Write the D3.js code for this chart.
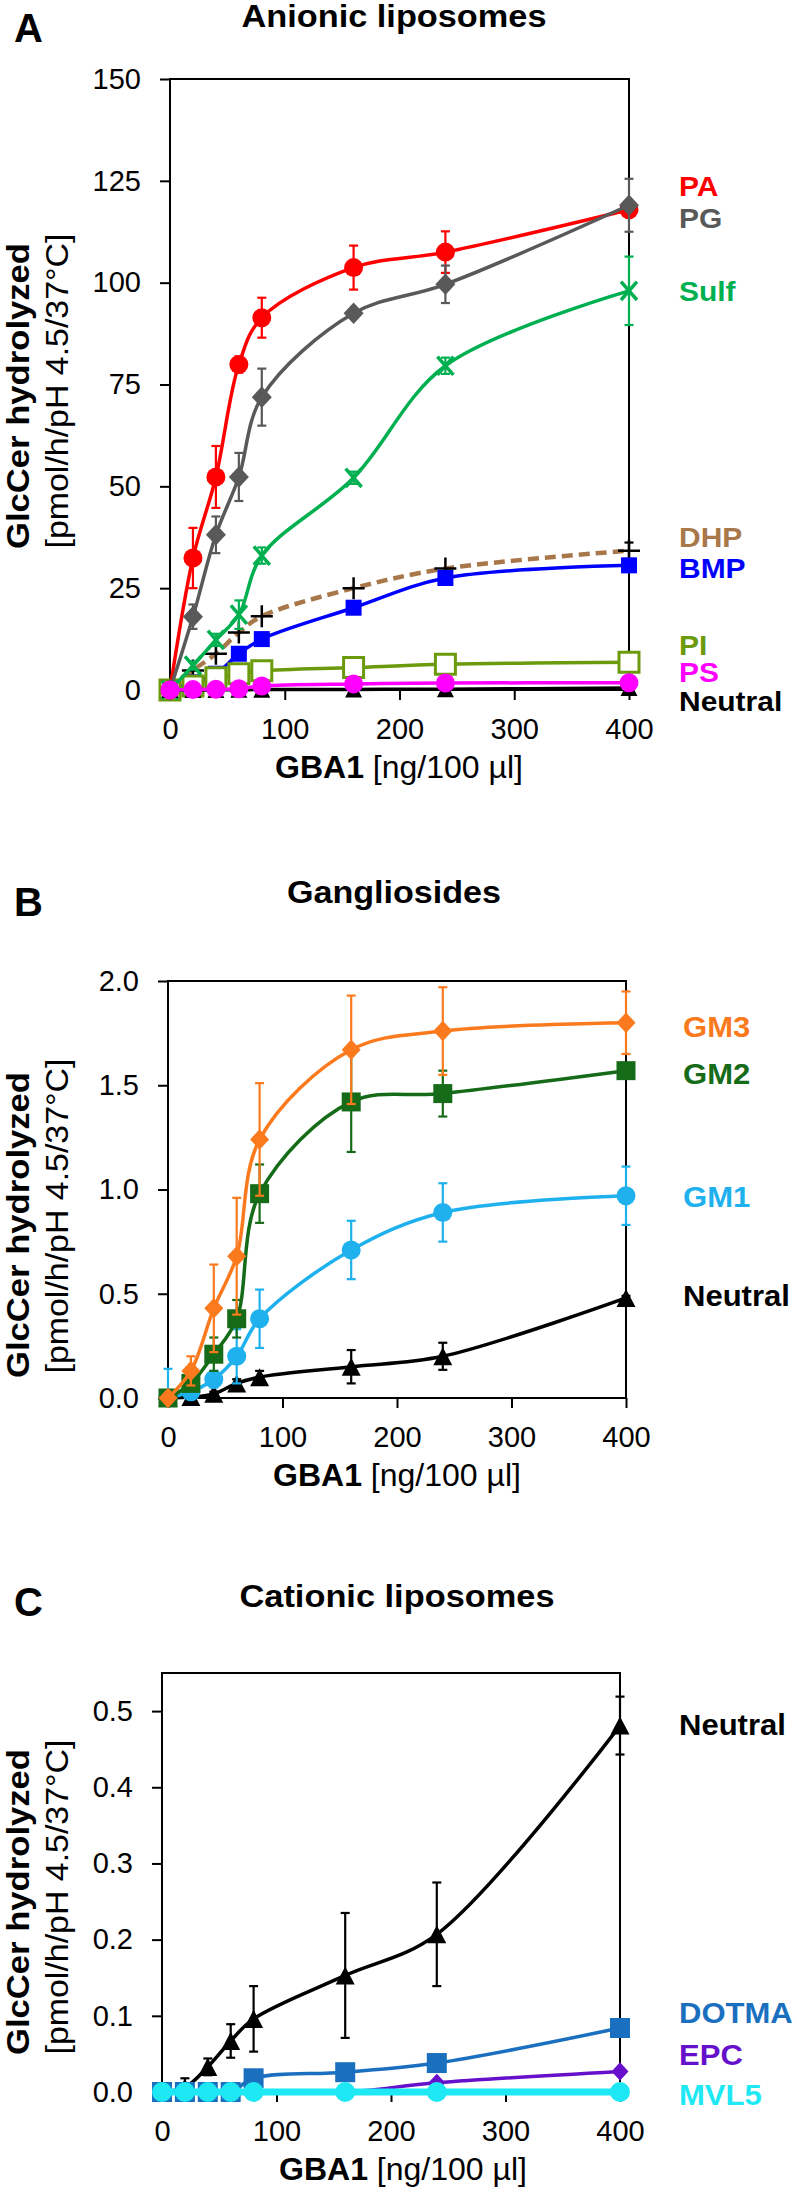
<!DOCTYPE html>
<html><head><meta charset="utf-8">
<script src="https://cdn.jsdelivr.net/npm/d3@7"></script>
<style>
body{margin:0;background:#fff}
svg{display:block}
text{font-family:"Liberation Sans",Arial,Helvetica,sans-serif}
</style>
</head><body>
<svg id="chart" width="797" height="2196"></svg>
<script>
// ---------- shared ----------
const doses = [0, 20, 40, 60, 80, 160, 240, 400];
const xTicks = [0, 100, 200, 300, 400];
const xTickLabels = ["0", "100", "200", "300", "400"];

// ---------- Panel A: anionic liposomes ----------
const yTicksA = [0, 25, 50, 75, 100, 125, 150];
const yTickLabelsA = ["0", "25", "50", "75", "100", "125", "150"];
const paVals   = [0, 32.4, 52.3, 79.9, 91.4, 103.7, 107.5, 117.9];
const paErr    = [0, 7.4, 7.6, 2.0, 4.9, 5.4, 5.1, 1.0];
const pgVals   = [0, 18.0, 38.1, 52.3, 71.9, 92.5, 99.6, 119.0];
const pgErr    = [0, 3.0, 4.5, 5.9, 7.0, 1.0, 4.6, 6.5];
const sulfVals = [0, 6.0, 12.3, 18.5, 33.0, 52.1, 79.6, 98.0];
const sulfErr  = [0, 1.0, 1.5, 3.5, 2.0, 1.5, 2.0, 8.4];
const dhpVals  = [0, 4.8, 8.9, 14.1, 18.1, 25.0, 29.8, 34.2];
const dhpErr   = [0, 0, 0, 0, 0, 0, 0, 2.0];
const bmpVals  = [0, 1.9, 4.0, 8.9, 12.5, 20.2, 27.5, 30.6];
const bmpErr   = [0, 0.5, 1.0, 1.0, 1.0, 1.5, 1.5, 1.0];
const piVals   = [0, 1.0, 3.0, 4.0, 4.7, 5.5, 6.3, 6.8];
const piErr    = [0, 0.5, 0.5, 0.5, 0.5, 0.5, 0.5, 0.5];
const psVals   = [0, 0.1, 0.2, 0.3, 1.0, 1.5, 1.7, 1.8];
const neutralAVals = [0, 0, 0.02, 0.07, 0.1, 0.15, 0.2, 0.48];

// ---------- Panel B: gangliosides ----------
const yTicksB = [0, 0.5, 1.0, 1.5, 2.0];
const yTickLabelsB = ["0.0", "0.5", "1.0", "1.5", "2.0"];
const gm3Vals = [0, 0.13, 0.43, 0.68, 1.24, 1.67, 1.76, 1.80];
const gm3Err  = [0, 0.07, 0.21, 0.28, 0.27, 0.26, 0.21, 0.15];
const gm2Vals = [0, 0.07, 0.21, 0.38, 0.98, 1.42, 1.46, 1.57];
const gm2Err  = [0, 0.02, 0.08, 0.09, 0.14, 0.24, 0.11, 0.02];
const gm1Vals = [0, 0.03, 0.09, 0.20, 0.38, 0.71, 0.89, 0.97];
const gm1Err  = [0.14, 0.02, 0.04, 0.13, 0.14, 0.14, 0.14, 0.14];
const neutralBVals = [0, 0.005, 0.02, 0.07, 0.10, 0.15, 0.20, 0.48];
const neutralBErr  = [0, 0.01, 0.01, 0.02, 0.03, 0.08, 0.065, 0.01];

// ---------- Panel C: cationic liposomes ----------
const yTicksC = [0, 0.1, 0.2, 0.3, 0.4, 0.5];
const yTickLabelsC = ["0.0", "0.1", "0.2", "0.3", "0.4", "0.5"];
const neutralCVals = [0, 0.006, 0.033, 0.067, 0.096, 0.153, 0.207, 0.481];
const neutralCErr  = [0, 0.012, 0.011, 0.022, 0.043, 0.082, 0.068, 0.038];
const dotmaVals = [0, 0, 0, 0, 0.018, 0.026, 0.038, 0.084];
const epcVals   = [0, 0, 0, 0, 0, 0, 0.012, 0.027];
const mvl5Vals  = [0, 0, 0, 0, 0, 0, 0, 0];

// ---------- symbols (size = width^2) ----------
const symCircle = {draw(c, s){const r = Math.sqrt(s)/2; c.moveTo(r,0); c.arc(0,0,r,0,2*Math.PI);}};
const symSquare = {draw(c, s){const r = Math.sqrt(s)/2; c.rect(-r,-r,2*r,2*r);}};
const symDiamond = {draw(c, s){const r = Math.sqrt(s)/2, h = r*1.08; c.moveTo(0,-h); c.lineTo(r,0); c.lineTo(0,h); c.lineTo(-r,0); c.closePath();}};
const symTriangle = {draw(c, s){const r = Math.sqrt(s)/2, h = r*0.95; c.moveTo(0,-h); c.lineTo(r,h); c.lineTo(-r,h); c.closePath();}};
const symPlus = {draw(c, s){const r = Math.sqrt(s)/2; c.moveTo(-r,0); c.lineTo(r,0); c.moveTo(0,-r); c.lineTo(0,r);}};
const symTimes = {draw(c, s){const r = Math.sqrt(s)/2, h = r*1.15; c.moveTo(-r,-h); c.lineTo(r,h); c.moveTo(r,-h); c.lineTo(-r,h);}};

const svg = d3.select("#chart");
const FONT = '"Liberation Sans",Arial,Helvetica,sans-serif';

function drawPanel(cfg) {
  const g = svg.append("g");
  const x = d3.scaleLinear().domain([0, 400]).range([cfg.left, cfg.right]);
  const y = d3.scaleLinear().domain([0, cfg.yTop]).range([cfg.bottom, cfg.top]);

  // letter + title
  g.append("text").attr("x", 14).attr("y", cfg.letterY).attr("font-size", 40)
    .attr("font-weight", "bold").text(cfg.letter);
  g.append("text").attr("x", cfg.titleX).attr("y", cfg.titleY).attr("font-size", 31)
    .attr("font-weight", "bold").attr("text-anchor", "middle")
    .attr("textLength", cfg.titleLen).attr("lengthAdjust", "spacingAndGlyphs").text(cfg.title);

  // axes
  const yAxis = d3.axisLeft(y).tickValues(cfg.yTicks)
    .tickFormat((d, i) => cfg.yLabels[i]).tickSize(10).tickPadding(19);
  const ya = g.append("g").attr("transform", `translate(${cfg.left},0)`).call(yAxis);
  const xAxis = d3.axisBottom(x).tickValues(xTicks)
    .tickFormat((d, i) => xTickLabels[i]).tickSize(10).tickPadding(18);
  const xa = g.append("g").attr("transform", `translate(0,${cfg.bottom})`).call(xAxis);
  [ya, xa].forEach(a => {
    a.select(".domain").remove();
    a.selectAll(".tick line").attr("stroke", "#000").attr("stroke-width", 2);
    a.selectAll(".tick text").attr("font-size", 29).attr("font-family", FONT).attr("fill", "#000");
  });
  // frame
  g.append("rect").attr("x", cfg.left).attr("y", cfg.top)
    .attr("width", cfg.right - cfg.left).attr("height", cfg.bottom - cfg.top)
    .attr("fill", "none").attr("stroke", "#000").attr("stroke-width", 2);

  // y title
  const yt = g.append("g");
  yt.append("text").attr("transform", `translate(29,${cfg.yTitleC1}) rotate(-90)`)
    .attr("text-anchor", "middle").attr("font-size", 31).attr("font-weight", "bold")
    .attr("textLength", 306).attr("lengthAdjust", "spacingAndGlyphs").text("GlcCer hydrolyzed");
  yt.append("text").attr("transform", `translate(68,${cfg.yTitleC2}) rotate(-90)`)
    .attr("text-anchor", "middle").attr("font-size", 31)
    .attr("textLength", 315).attr("lengthAdjust", "spacingAndGlyphs").text("[pmol/h/pH 4.5/37°C]");

  // x title
  const xt = g.append("text").attr("x", cfg.xTitleX).attr("y", cfg.bottom + 88)
    .attr("text-anchor", "middle").attr("font-size", 32);
  xt.append("tspan").attr("font-weight", "bold").text("GBA1");
  xt.append("tspan").text(" [ng/100 µl]");

  // series
  cfg.series.forEach(s => {
    const pts = doses.map((d, i) => ({x: d, v: s.vals[i], e: s.err ? s.err[i] : 0}));
    const sg = g.append("g");
    const ec = s.errColor || s.color;
    // error bars
    pts.filter(p => p.e > 0).forEach(p => {
      const cx = x(p.x);
      const hi = y(p.v + p.e);
      const loV = p.v - p.e;
      const lo = y(Math.max(0, loV));
      sg.append("line").attr("x1", cx).attr("x2", cx).attr("y1", lo).attr("y2", hi)
        .attr("stroke", ec).attr("stroke-width", 2.2);
      sg.append("line").attr("x1", cx - 4.5).attr("x2", cx + 4.5).attr("y1", hi).attr("y2", hi)
        .attr("stroke", ec).attr("stroke-width", 2.2);
      if (loV > 0) sg.append("line").attr("x1", cx - 4.5).attr("x2", cx + 4.5).attr("y1", lo).attr("y2", lo)
        .attr("stroke", ec).attr("stroke-width", 2.2);
    });
    // line
    const line = d3.line().x(p => x(p.x)).y(p => y(p.v)).curve(d3.curveCatmullRom.alpha(0.5));
    sg.append("path").attr("d", line(pts)).attr("fill", "none")
      .attr("stroke", s.lineColor || s.color).attr("stroke-width", s.lw || 3.5)
      .attr("stroke-dasharray", s.dash || null).attr("stroke-linejoin", "round");
    // markers
    const sym = d3.symbol().type(s.sym).size(s.ms * s.ms);
    sg.selectAll("path.m").data(pts).join("path").attr("class", "m")
      .attr("transform", p => `translate(${x(p.x)},${y(p.v)})`)
      .attr("d", sym)
      .attr("fill", s.fill === undefined ? (s.markColor || s.color) : s.fill)
      .attr("stroke", s.stroke ? (s.markColor || s.color) : "none")
      .attr("stroke-width", s.stroke || 0);
  });

  // legend labels (slightly widened like the reference lettering)
  cfg.labels.forEach(l => {
    const t = g.append("text").attr("x", cfg.labelX).attr("y", l.y).attr("dy", "0.36em")
      .attr("font-size", cfg.labelSize).attr("font-weight", "bold").attr("fill", l.color).text(l.text);
    const w = t.node().getComputedTextLength();
    t.attr("textLength", w * 1.07).attr("lengthAdjust", "spacingAndGlyphs");
  });
}

// colors
const cPA = "#ff0000", cPG = "#595959", cSulf = "#00b050", cDHP = "#a8784a", cBMP = "#0000ff",
      cPI = "#6b9a0c", cPS = "#ff00ff", cNeu = "#000000",
      cGM3 = "#fb7a1e", cGM2 = "#156b17", cGM1 = "#1eb1ee",
      cDOTMA = "#1a70bf", cEPC = "#6610cc", cMVL5 = "#1ee8f4";

drawPanel({
  letter: "A", letterY: 42, title: "Anionic liposomes", titleX: 394, titleY: 27, titleLen: 305,
  left: 170, right: 629, top: 79, bottom: 690, yTop: 150,
  yTicks: yTicksA, yLabels: yTickLabelsA, yTitleC1: 396, yTitleC2: 391, xTitleX: 399,
  labelX: 679, labelSize: 28,
  series: [
    {vals: dhpVals, err: dhpErr, color: cDHP, errColor: "#000", markColor: "#000", sym: symPlus, ms: 22, fill: "none", stroke: 2.5, dash: "11,6", lw: 4.5},
    {vals: bmpVals, err: bmpErr, color: cBMP, sym: symSquare, ms: 16},
    {vals: piVals, err: piErr, color: cPI, sym: symSquare, ms: 20, fill: "#fff", stroke: 3},
    {vals: sulfVals, err: sulfErr, color: cSulf, sym: symTimes, ms: 16, fill: "none", stroke: 3.5},
    {vals: paVals, err: paErr, color: cPA, sym: symCircle, ms: 19},
    {vals: pgVals, err: pgErr, color: cPG, sym: symDiamond, ms: 20},
    {vals: neutralAVals, color: cNeu, sym: symTriangle, ms: 17},
    {vals: psVals, color: cPS, sym: symCircle, ms: 19}
  ],
  labels: [
    {text: "PA", y: 186, color: cPA}, {text: "PG", y: 218, color: cPG},
    {text: "Sulf", y: 291, color: cSulf}, {text: "DHP", y: 537, color: cDHP},
    {text: "BMP", y: 568, color: cBMP}, {text: "PI", y: 645, color: cPI},
    {text: "PS", y: 672, color: cPS}, {text: "Neutral", y: 701, color: cNeu}
  ]
});

drawPanel({
  letter: "B", letterY: 916, title: "Gangliosides", titleX: 394, titleY: 903, titleLen: 214,
  left: 168, right: 626, top: 981, bottom: 1398, yTop: 2.0,
  yTicks: yTicksB, yLabels: yTickLabelsB, yTitleC1: 1225, yTitleC2: 1216, xTitleX: 397,
  labelX: 683, labelSize: 29,
  series: [
    {vals: neutralBVals, err: neutralBErr, color: cNeu, sym: symTriangle, ms: 19},
    {vals: gm1Vals, err: gm1Err, color: cGM1, sym: symCircle, ms: 19},
    {vals: gm2Vals, err: gm2Err, color: cGM2, sym: symSquare, ms: 19},
    {vals: gm3Vals, err: gm3Err, color: cGM3, sym: symDiamond, ms: 19}
  ],
  labels: [
    {text: "GM3", y: 1027, color: cGM3}, {text: "GM2", y: 1074, color: cGM2},
    {text: "GM1", y: 1197, color: cGM1}, {text: "Neutral", y: 1296, color: cNeu}
  ]
});

drawPanel({
  letter: "C", letterY: 1616, title: "Cationic liposomes", titleX: 397, titleY: 1607, titleLen: 315,
  left: 162, right: 620, top: 1673, bottom: 2092, yTop: 0.55,
  yTicks: yTicksC, yLabels: yTickLabelsC, yTitleC1: 1902, yTitleC2: 1897, xTitleX: 403,
  labelX: 679, labelSize: 29,
  series: [
    {vals: neutralCVals, err: neutralCErr, color: cNeu, sym: symTriangle, ms: 19},
    {vals: epcVals, color: cEPC, sym: symDiamond, ms: 17},
    {vals: dotmaVals, color: cDOTMA, sym: symSquare, ms: 20},
    {vals: mvl5Vals, color: cMVL5, sym: symCircle, ms: 20, lw: 7}
  ],
  labels: [
    {text: "Neutral", y: 1725, color: cNeu}, {text: "DOTMA", y: 2013, color: cDOTMA},
    {text: "EPC", y: 2055, color: cEPC}, {text: "MVL5", y: 2095, color: cMVL5}
  ]
});
</script>
</body></html>
